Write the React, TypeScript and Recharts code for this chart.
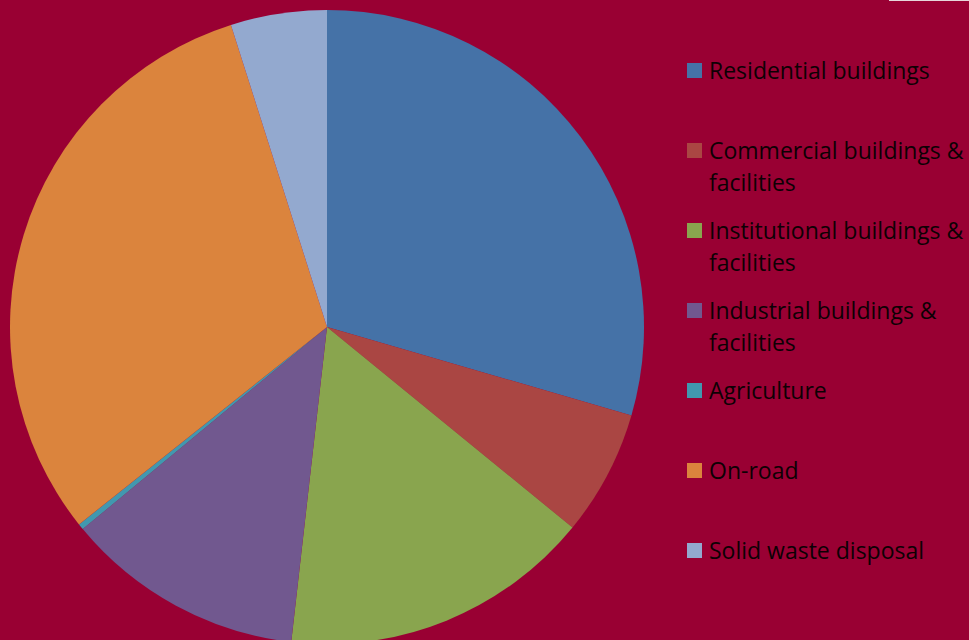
import React from 'react';
import { PieChart, Pie, Cell, Legend } from 'recharts';

const categories = [
  'Residential buildings',
  'Commercial buildings & facilities',
  'Institutional buildings & facilities',
  'Industrial buildings & facilities',
  'Agriculture',
  'On-road',
  'Solid waste disposal',
];

const shares = [29.5, 6.4, 15.9, 12.2, 0.3, 30.8, 4.9];

const colors = ['#4572A7', '#AA4643', '#89A54E', '#71588F', '#4198AF', '#DB843D', '#93A9CF'];

const data = categories.map((name, i) => ({ name, value: shares[i] }));

const BG = '#990033';

const renderLegend = () => (
  <div style={{ fontFamily: "'Open Sans', sans-serif", fontSize: 23, color: '#0d0004' }}>
    {categories.map((name, i) => {
      const parts = name.split(' & ');
      const twoLines = parts.length > 1;
      return (
        <div key={name} style={{ display: 'flex', alignItems: 'flex-start', height: 80 }}>
          <div
            style={{
              width: 15,
              height: 15,
              background: colors[i],
              marginTop: 9,
              marginRight: 7,
              flexShrink: 0,
            }}
          />
          <div style={{ lineHeight: '32px', whiteSpace: 'nowrap' }}>
            {twoLines ? (
              <>
                <div>{parts[0]} &amp;</div>
                <div>{parts[1]}</div>
              </>
            ) : (
              name
            )}
          </div>
        </div>
      );
    })}
  </div>
);

const App: React.FC = () => {
  return (
    <div style={{ position: 'absolute', left: 0, top: 0, width: 969, height: 640, background: BG, overflow: 'hidden' }}>
      <div style={{ position: 'absolute', left: 889, top: 0, width: 80, height: 1, background: '#e6d6da' }} />
      <PieChart width={969} height={640} margin={{ top: 0, right: 0, bottom: 0, left: 0 }}>
        <Pie
          data={data}
          dataKey="value"
          nameKey="name"
          cx={327}
          cy={327}
          outerRadius={317}
          startAngle={90}
          endAngle={-270}
          stroke="none"
          isAnimationActive={false}
        >
          {data.map((d, i) => (
            <Cell key={d.name} fill={colors[i]} />
          ))}
        </Pie>
        <Legend
          content={renderLegend}
          layout="vertical"
          wrapperStyle={{ left: 687, top: 54, width: 290 }}
        />
      </PieChart>
    </div>
  );
};

export default App;
